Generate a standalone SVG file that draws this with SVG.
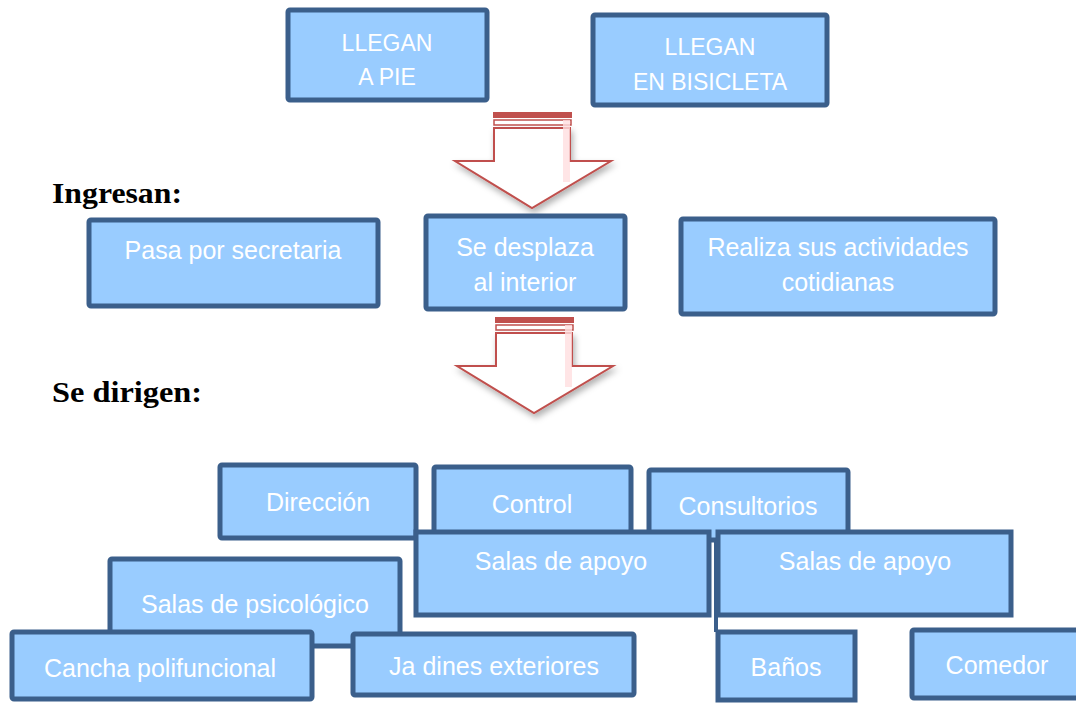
<svg xmlns="http://www.w3.org/2000/svg" width="1076" height="704" viewBox="0 0 1076 704">
<defs>
<style>
.box{fill:#99ccff;stroke:#3b5f8b;stroke-width:5}
.t{font-family:"Liberation Sans",Arial,sans-serif;font-size:25px;fill:#ffffff;text-anchor:middle}
.u{font-size:23px}
.h{font-family:"Liberation Serif","Times New Roman",serif;font-size:30px;font-weight:bold;fill:#000}
.ar{fill:#ffffff;stroke:#c0504d;stroke-width:2}
</style>
<filter id="sh" x="-20%" y="-20%" width="140%" height="150%">
<feDropShadow dx="2" dy="4" stdDeviation="3" flood-color="#000" flood-opacity="0.3"/>
</filter>
<g id="arrowShape">
<rect x="493" y="112" width="79" height="6" fill="#c0504d"/>
<rect x="494" y="120" width="77" height="5" fill="#fff" stroke="#c0504d" stroke-width="1.5"/>
<path class="ar" filter="url(#sh)" d="M494,128 L570,128 L570,161 L611,161 L532,208 L455,161 L494,161 Z"/>
<rect x="563" y="120" width="7" height="62" fill="#ffdfe0" opacity="0.8"/>
</g>
</defs>
<rect width="1076" height="704" fill="#fff"/>

<g id="connectors">
<use href="#arrowShape"/>
<use href="#arrowShape" transform="translate(2,205)"/>
<line x1="716" y1="530" x2="716" y2="632" stroke="#3b5f8b" stroke-width="4"/>
</g>

<text class="h" x="52" y="203" textLength="130" lengthAdjust="spacingAndGlyphs">Ingresan:</text>
<text class="h" x="52" y="402" textLength="150" lengthAdjust="spacingAndGlyphs">Se dirigen:</text>

<g id="n-pie"><rect class="box" x="288" y="10" width="199" height="90" rx="2"/>
<text class="t u" x="387" y="51">LLEGAN</text><text class="t u" x="387" y="85">A PIE</text></g>
<g id="n-bici"><rect class="box" x="593" y="15" width="234" height="90" rx="2"/>
<text class="t u" x="710" y="55">LLEGAN</text><text class="t u" x="710" y="90">EN BISICLETA</text></g>

<g id="n-secretaria"><rect class="box" x="89" y="220" width="289" height="86" rx="2"/>
<text class="t" x="233" y="259">Pasa por secretaria</text></g>
<g id="n-desplaza"><rect class="box" x="426" y="216" width="199" height="93" rx="2"/>
<text class="t" x="525" y="256">Se desplaza</text><text class="t" x="525" y="291">al interior</text></g>
<g id="n-realiza"><rect class="box" x="681" y="219" width="314" height="95" rx="2"/>
<text class="t" x="838" y="256">Realiza sus actividades</text><text class="t" x="838" y="291">cotidianas</text></g>

<g id="n-direccion"><rect class="box" x="220" y="465" width="196" height="73" rx="2"/>
<text class="t" x="318" y="511">Dirección</text></g>
<g id="n-control"><rect class="box" x="434" y="467" width="197" height="73" rx="2"/>
<text class="t" x="532" y="513">Control</text></g>
<g id="n-consultorios"><rect class="box" x="649" y="470" width="199" height="70" rx="2"/>
<text class="t" x="748" y="515">Consultorios</text></g>
<g id="n-apoyo1"><rect class="box" x="416" y="532" width="293" height="83"/>
<text class="t" x="561" y="570">Salas de apoyo</text></g>
<g id="n-apoyo2"><rect class="box" x="718" y="532" width="293" height="83"/>
<text class="t" x="865" y="570">Salas de apoyo</text></g>
<g id="n-psico"><rect class="box" x="110" y="559" width="290" height="87" rx="2"/>
<text class="t" x="255" y="613">Salas de psicológico</text></g>
<g id="n-cancha"><rect class="box" x="12" y="632" width="300" height="67" rx="2"/>
<text class="t" x="160" y="677">Cancha polifuncional</text></g>
<g id="n-jardines"><rect class="box" x="353" y="634" width="281" height="61" rx="2"/>
<text class="t" x="494" y="675">Ja dines exteriores</text></g>
<g id="n-banos"><rect class="box" x="718" y="632" width="137" height="68"/>
<text class="t" x="786" y="676">Baños</text></g>
<g id="n-comedor"><rect class="box" x="912" y="630" width="170" height="68" rx="2"/>
<text class="t" x="997" y="674">Comedor</text></g>
</svg>
